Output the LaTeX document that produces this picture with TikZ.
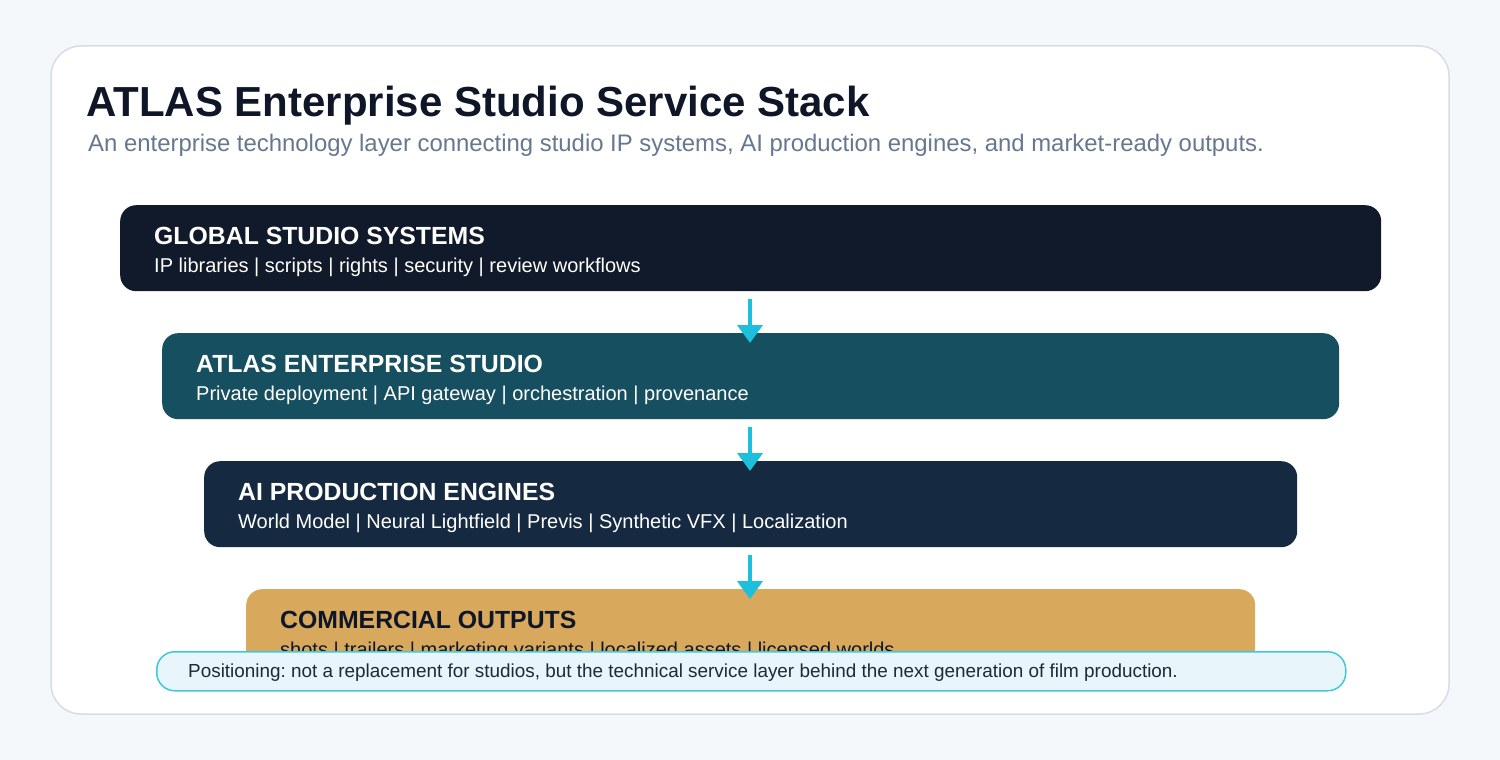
\documentclass[tikz,border=0pt]{standalone}
\usepackage{fontspec}
\setmainfont{Liberation Sans}
\usetikzlibrary{positioning, arrows.meta}
\frenchspacing

\definecolor{pagebg}{HTML}{F5F8FB}
\definecolor{cardline}{HTML}{D6DDE8}
\definecolor{inkdark}{HTML}{0E1627}
\definecolor{inkgray}{HTML}{667790}
\definecolor{sysfill}{HTML}{111A2A}
\definecolor{atlasfill}{HTML}{164F5F}
\definecolor{engfill}{HTML}{152A40}
\definecolor{outfill}{HTML}{D8A85D}
\definecolor{notefill}{HTML}{E8F6FB}
\definecolor{noteline}{HTML}{3FC8DE}
\definecolor{flow}{HTML}{1DBFDC}
\definecolor{notetext}{HTML}{1F2937}

\begin{document}
\begin{tikzpicture}[x=1pt,y=-1pt,
  layer/.style={rounded corners=16pt, inner sep=0pt, anchor=north west,
    minimum height=86pt},
  layertitle/.style={anchor=base west, inner sep=0pt,
    font=\fontsize{24.8}{28}\selectfont\bfseries},
  layertext/.style={anchor=base west, inner sep=0pt,
    font=\fontsize{20}{24}\selectfont},
  flowarrow/.style={draw=flow, line width=4pt,
    -{Triangle[length=18pt, width=25pt]}, shorten <=8pt, shorten >=-10pt}]

\useasboundingbox (0,0) rectangle (1500,760);
\fill[pagebg] (0,0) rectangle (1500,760);

% card
\draw[cardline, line width=1.5pt, fill=white, rounded corners=30pt]
  (51,46) rectangle (1449,714);

\node[anchor=base west, inner sep=0pt, text=inkdark,
  font=\fontsize{42}{50}\selectfont\bfseries] (title) at (86,117)
  {ATLAS Enterprise Studio Service Stack};
\node[anchor=base west, inner sep=0pt, text=inkgray,
  font=\fontsize{23.9}{28}\selectfont] (subtitle) at (88,151)
  {An enterprise technology layer connecting studio IP systems, AI production engines, and market-ready outputs.};

% layer boxes
\node[layer, fill=sysfill, minimum width=1261pt] (sys) at (120,205) {};
\node[layer, fill=atlasfill, minimum width=1177pt] (atlas) at (162,333) {};
\node[layer, fill=engfill, minimum width=1093pt] (eng) at (204,461) {};
\node[layer, fill=outfill, minimum width=1009pt] (out) at (246,589) {};

% arrows between layers
\draw[flowarrow] (sys.south -| 750,0) -- (atlas.north -| 750,0);
\draw[flowarrow] (atlas.south -| 750,0) -- (eng.north -| 750,0);
\draw[flowarrow] (eng.south -| 750,0) -- (out.north -| 750,0);

% layer labels
\node[layertitle, text=white] (sysT) at (154,244) {GLOBAL STUDIO SYSTEMS};
\node[layertext, text=white] (sysS) at (154,272)
  {IP libraries | scripts | rights | security | review workflows};
\node[layertitle, text=white] (atlasT) at (196,372) {ATLAS ENTERPRISE STUDIO};
\node[layertext, text=white] (atlasS) at (196,400)
  {Private deployment | API gateway | orchestration | provenance};
\node[layertitle, text=white] (engT) at (238,500) {AI PRODUCTION ENGINES};
\node[layertext, text=white] (engS) at (238,528)
  {World Model | Neural Lightfield | Previs | Synthetic VFX | Localization};
\node[layertitle, text=inkdark] (outT) at (280,628) {COMMERCIAL OUTPUTS};
\node[layertext, text=inkdark] (outS) at (280,656)
  {shots | trailers | marketing variants | localized assets | licensed worlds};

% positioning note
\node[draw=noteline, line width=1.5pt, fill=notefill, rounded corners=18pt,
  anchor=north west, inner sep=0pt, minimum width=1189pt, minimum height=39pt]
  (note) at (156,651) {};
\node[anchor=base west, inner sep=0pt, text=notetext,
  font=\fontsize{18.9}{22}\selectfont] (noteT) at (188,677)
  {Positioning: not a replacement for studios, but the technical service layer behind the next generation of film production.};
\end{tikzpicture}
\end{document}
